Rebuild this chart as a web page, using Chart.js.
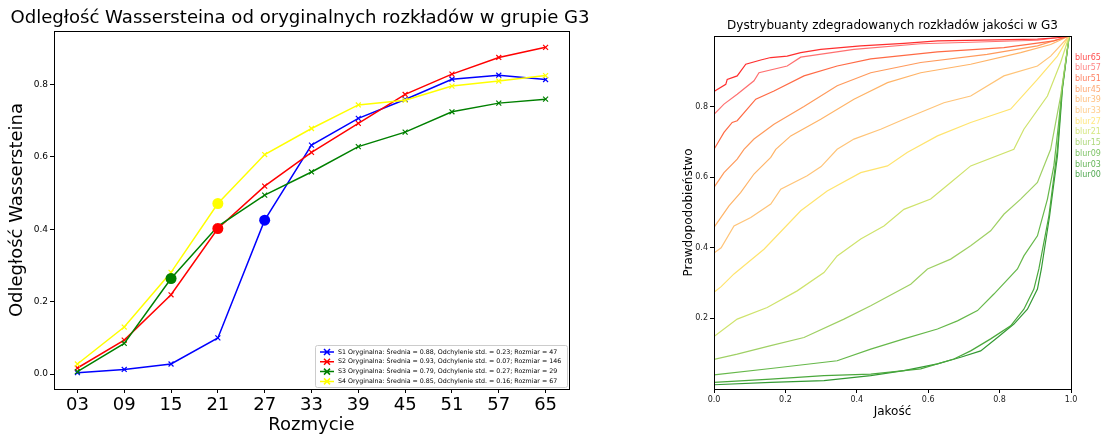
<!DOCTYPE html>
<html>
<head>
<meta charset="utf-8">
<script src="https://cdn.jsdelivr.net/npm/chart.js@4.4.0/dist/chart.umd.min.js"></script>
<style>
  body { margin: 0; background: #fff; width: 1105px; height: 437px; overflow: hidden; position: relative; }
  #left { position: absolute; left: 0; top: 0; width: 600px; height: 437px; }
  #right { position: absolute; left: 682px; top: 0; width: 421px; height: 437px; }
</style>
</head>
<body>
<div id="left"><canvas id="wassChart"></canvas></div>
<div id="right"><canvas id="cdfChart"></canvas></div>
<script>
// ---- left chart data ----
var blurLevels = ['03', '09', '15', '21', '27', '33', '39', '45', '51', '57', '65'];
var s1 = [0.004, 0.013, 0.028, 0.100, 0.425, 0.632, 0.706, 0.758, 0.814, 0.825, 0.813];
var s2 = [0.017, 0.094, 0.219, 0.402, 0.519, 0.612, 0.692, 0.772, 0.828, 0.874, 0.902];
var s3 = [0.007, 0.085, 0.264, 0.408, 0.494, 0.558, 0.628, 0.668, 0.724, 0.748, 0.759];
var s4 = [0.028, 0.130, 0.281, 0.471, 0.606, 0.678, 0.743, 0.756, 0.795, 0.809, 0.824];
// index of the big dot on each series
var dotIndex = [4, 3, 2, 3];
var seriesLabels = [
  'S1 Oryginalna: Średnia = 0.88, Odchylenie std. = 0.23; Rozmiar = 47',
  'S2 Oryginalna: Średnia = 0.93, Odchylenie std. = 0.07; Rozmiar = 146',
  'S3 Oryginalna: Średnia = 0.79, Odchylenie std. = 0.27; Rozmiar = 29',
  'S4 Oryginalna: Średnia = 0.85, Odchylenie std. = 0.16; Rozmiar = 67'
];
var seriesColors = ['#0000ff', '#ff0000', '#008000', '#ffff00'];
var leftTicks = [0.0, 0.2, 0.4, 0.6, 0.8];

// ---- right chart data: [jakość, prawdopodobieństwo] ----
var blur65 = [[0,.843],[.033,.863],[.037,.877],[.065,.887],[.089,.920],[.131,.932],[.159,.939],[.205,.943],[.243,.953],[.299,.962],[.411,.972],[.532,.979],[.626,.986],[.906,.991],[.962,.995],[.995,1.0]];
var blur57 = [[0,.778],[.028,.807],[.065,.835],[.112,.873],[.126,.896],[.205,.915],[.243,.940],[.392,.962],[.579,.978],[.906,.988],[.995,1.0]];
var blur51 = [[0,.679],[.028,.727],[.051,.755],[.065,.760],[.117,.821],[.168,.844],[.252,.887],[.345,.915],[.439,.935],[.626,.955],[.812,.967],[.952,.986],[.995,1.0]];
var blur45 = [[0,.571],[.028,.613],[.065,.651],[.084,.679],[.112,.708],[.168,.750],[.252,.800],[.345,.859],[.439,.896],[.579,.925],[.765,.948],[.906,.972],[.995,1.0]];
var blur39 = [[0,.458],[.042,.519],[.075,.557],[.112,.609],[.159,.656],[.173,.679],[.215,.717],[.299,.764],[.392,.821],[.486,.868],[.579,.896],[.719,.920],[.859,.953],[.943,.976],[.995,1.0]];
var blur33 = [[0,.385],[.02,.400],[.056,.462],[.103,.486],[.159,.524],[.187,.566],[.261,.604],[.300,.630],[.345,.679],[.392,.708],[.467,.736],[.532,.764],[.644,.811],[.719,.830],[.812,.887],[.906,.915],[.943,.943],[.995,1.0]];
var blur27 = [[0,.274],[.02,.290],[.056,.326],[.140,.396],[.243,.505],[.317,.561],[.411,.613],[.486,.632],[.541,.670],[.626,.717],[.719,.755],[.831,.793],[.906,.877],[.962,.943],[.995,1.0]];
var blur21 = [[0,.149],[.065,.198],[.149,.231],[.233,.278],[.308,.330],[.345,.377],[.411,.425],[.476,.462],[.532,.509],[.607,.538],[.663,.585],[.719,.632],[.840,.679],[.868,.736],[.934,.830],[.971,.925],[.995,1.0]];
var blur15 = [[0,.084],[.065,.099],[.159,.123],[.252,.146],[.364,.198],[.439,.236],[.551,.297],[.598,.340],[.663,.368],[.719,.406],[.775,.448],[.812,.495],[.859,.538],[.906,.585],[.943,.679],[.971,.830],[.995,1.0]];
var blur09 = [[0,.040],[.159,.058],[.345,.080],[.439,.113],[.532,.142],[.626,.170],[.682,.193],[.738,.222],[.784,.269],[.850,.340],[.868,.377],[.906,.434],[.934,.538],[.952,.632],[.965,.750],[.975,.850],[.995,1.0]];
var blur03 = [[0,.019],[.159,.028],[.308,.038],[.439,.042],[.579,.057],[.672,.085],[.719,.108],[.775,.142],[.831,.179],[.868,.226],[.896,.283],[.910,.340],[.938,.490],[.962,.679],[.975,.850],[.995,1.0]];
var blur00 = [[0,.012],[.159,.019],[.308,.024],[.439,.038],[.532,.052],[.626,.071],[.691,.090],[.747,.108],[.794,.146],[.840,.184],[.878,.226],[.906,.283],[.917,.340],[.940,.490],[.962,.660],[.976,.850],[.995,1.0]];
var cdfNames = ['blur65', 'blur57', 'blur51', 'blur45', 'blur39', 'blur33', 'blur27', 'blur21', 'blur15', 'blur09', 'blur03', 'blur00'];
var cdfData = [blur65, blur57, blur51, blur45, blur39, blur33, blur27, blur21, blur15, blur09, blur03, blur00];
var cdfColors = ['#ff2e2e', '#ff7070', '#ff6a45', '#ff9a5c', '#ffb468', '#ffc478', '#ffe46e', '#cfe36c', '#9fd064', '#66b84a', '#4aa83c', '#339933'];
var rightTicks = [0.2, 0.4, 0.6, 0.8];

Chart.defaults.font.family = 'DejaVu Sans';
Chart.defaults.color = '#000';

// box round the plot area, like matplotlib spines
var framePlugin = {
  id: 'frame',
  afterDraw: function (chart) {
    var a = chart.chartArea, ctx = chart.ctx;
    ctx.save();
    ctx.strokeStyle = '#000';
    ctx.lineWidth = 1;
    ctx.strokeRect(Math.round(a.left) + 0.5, Math.round(a.top) + 0.5, Math.round(a.right - a.left), Math.round(a.bottom - a.top));
    ctx.restore();
  }
};

// legend in lower right corner of the left plot
var wassLegend = {
  id: 'wassLegend',
  afterDraw: function (chart) {
    var a = chart.chartArea, ctx = chart.ctx;
    var w = 252, h = 42;
    var x0 = a.right - w - 2, y0 = a.bottom - h - 2;
    ctx.save();
    ctx.fillStyle = 'rgba(255,255,255,0.85)';
    ctx.strokeStyle = '#cccccc';
    ctx.lineWidth = 1;
    ctx.beginPath();
    ctx.roundRect(x0 + 0.5, y0 + 0.5, w, h, 2);
    ctx.fill();
    ctx.stroke();
    ctx.font = '6.3px "DejaVu Sans"';
    ctx.textBaseline = 'middle';
    for (var i = 0; i < seriesLabels.length; i++) {
      var y = y0 + 7 + i * 9.8;
      ctx.strokeStyle = seriesColors[i];
      ctx.lineWidth = 1.5;
      ctx.beginPath();
      ctx.moveTo(x0 + 5, y);
      ctx.lineTo(x0 + 19, y);
      ctx.moveTo(x0 + 9, y - 3);
      ctx.lineTo(x0 + 15, y + 3);
      ctx.moveTo(x0 + 9, y + 3);
      ctx.lineTo(x0 + 15, y - 3);
      ctx.stroke();
      ctx.fillStyle = '#000';
      ctx.fillText(seriesLabels[i], x0 + 23, y);
    }
    ctx.restore();
  }
};

// coloured names to the right of the cdf plot
var cdfLabels = {
  id: 'cdfLabels',
  afterDraw: function (chart) {
    var a = chart.chartArea, ctx = chart.ctx;
    ctx.save();
    ctx.font = '8px "DejaVu Sans"';
    ctx.textBaseline = 'middle';
    for (var i = 0; i < cdfNames.length; i++) {
      ctx.fillStyle = cdfColors[i];
      ctx.globalAlpha = 0.85;
      ctx.fillText(cdfNames[i], a.right + 4, a.top + 21.5 + i * 10.7);
    }
    ctx.restore();
  }
};

// empty right axis that only keeps room on the right side
function spacerAxis(w) {
  return {
    position: 'right',
    display: true,
    grid: { display: false },
    border: { display: false },
    ticks: { display: false },
    afterFit: function (axis) { axis.width = w; }
  };
}

var seriesData = [s1, s2, s3, s4];
var leftSets = [];
var i;
for (i = 0; i < seriesData.length; i++) {
  leftSets.push({
    label: seriesLabels[i],
    data: seriesData[i],
    borderColor: seriesColors[i],
    backgroundColor: seriesColors[i],
    borderWidth: 1.5,
    pointStyle: 'crossRot',
    pointRadius: 3.5,
    pointBorderWidth: 1.2,
    tension: 0,
    yAxisID: 'y',
    order: 4 - i
  });
}
for (i = 0; i < seriesData.length; i++) {
  var dots = blurLevels.map(function () { return null; });
  dots[dotIndex[i]] = seriesData[i][dotIndex[i]];
  leftSets.push({
    label: 'dot' + i,
    data: dots,
    showLine: false,
    borderColor: seriesColors[i],
    backgroundColor: seriesColors[i],
    pointStyle: 'circle',
    pointRadius: 5.5,
    pointBorderWidth: 0,
    yAxisID: 'y',
    order: 0
  });
}

var ctx = document.getElementById('wassChart').getContext('2d');
var wassChart = new Chart(ctx, {
  type: 'line',
  data: { labels: blurLevels, datasets: leftSets },
  options: {
    responsive: true,
    maintainAspectRatio: false,
    animation: false,
    layout: { padding: 0 },
    plugins: {
      legend: { display: false },
      tooltip: { enabled: false },
      title: {
        display: true,
        text: 'Odległość Wassersteina od oryginalnych rozkładów w grupie G3',
        font: { size: 18.1, weight: 'normal' },
        color: '#000',
        padding: { top: 7.5, bottom: 1.8 }
      }
    },
    scales: {
      x: {
        type: 'category',
        offset: true,
        grid: { display: true, drawOnChartArea: false, drawTicks: true, tickLength: 4, color: '#000', offset: false },
        border: { display: true, color: '#000' },
        ticks: { font: { size: 18 }, padding: 2, color: '#000', maxRotation: 0 },
        title: { display: true, text: 'Rozmycie', font: { size: 18 }, padding: { top: 0, bottom: 1 }, color: '#000' },
        afterFit: function (axis) { axis.height = 48; }
      },
      y: {
        min: -0.041,
        max: 0.947,
        grid: { display: true, drawOnChartArea: false, drawTicks: true, tickLength: 4, color: '#000' },
        border: { display: true, color: '#000' },
        ticks: { font: { size: 9 }, padding: 2, color: '#000', callback: function (v) { return v.toFixed(1); } },
        afterBuildTicks: function (axis) { axis.ticks = leftTicks.map(function (v) { return { value: v }; }); },
        title: { display: true, text: 'Odległość Wassersteina', font: { size: 18 }, padding: { top: 7, bottom: 0 }, color: '#000' },
        afterFit: function (axis) { axis.width = 54; }
      },
      yPad: spacerAxis(31)
    }
  },
  plugins: [framePlugin, wassLegend]
});

var rightSets = [];
for (i = 0; i < cdfData.length; i++) {
  rightSets.push({
    label: cdfNames[i],
    data: cdfData[i].map(function (p) { return { x: p[0], y: p[1] }; }),
    borderColor: cdfColors[i],
    borderWidth: 1.2,
    pointRadius: 0,
    tension: 0,
    fill: false,
    yAxisID: 'y'
  });
}

var ctx2 = document.getElementById('cdfChart').getContext('2d');
var cdfChart = new Chart(ctx2, {
  type: 'line',
  data: { datasets: rightSets },
  options: {
    responsive: true,
    maintainAspectRatio: false,
    animation: false,
    layout: { padding: 0 },
    plugins: {
      legend: { display: false },
      tooltip: { enabled: false },
      title: {
        display: true,
        text: 'Dystrybuanty zdegradowanych rozkładów jakości w G3',
        font: { size: 12, weight: 'normal' },
        color: '#000',
        padding: { top: 19, bottom: 2.6 }
      }
    },
    scales: {
      x: {
        type: 'linear',
        min: 0,
        max: 1,
        grid: { display: true, drawOnChartArea: false, drawTicks: true, tickLength: 4, color: '#000' },
        border: { display: true, color: '#000' },
        ticks: { font: { size: 8 }, padding: 2, color: '#222', stepSize: 0.2, callback: function (v) { return v.toFixed(1); } },
        title: { display: true, text: 'Jakość', font: { size: 12 }, padding: { top: 0, bottom: 17.8 }, color: '#000' },
        afterFit: function (axis) { axis.height = 48; }
      },
      y: {
        min: 0,
        max: 1,
        grid: { display: true, drawOnChartArea: false, drawTicks: true, tickLength: 4, color: '#000' },
        border: { display: true, color: '#000' },
        ticks: { font: { size: 8 }, padding: 2, color: '#222', callback: function (v) { return v.toFixed(1); } },
        afterBuildTicks: function (axis) { axis.ticks = rightTicks.map(function (v) { return { value: v }; }); },
        title: { display: true, text: 'Prawdopodobieństwo', font: { size: 12 }, padding: { top: 0, bottom: 0 }, color: '#000' },
        afterFit: function (axis) { axis.width = 32; }
      },
      yPad: spacerAxis(32)
    }
  },
  plugins: [framePlugin, cdfLabels]
});
</script>
</body>
</html>
